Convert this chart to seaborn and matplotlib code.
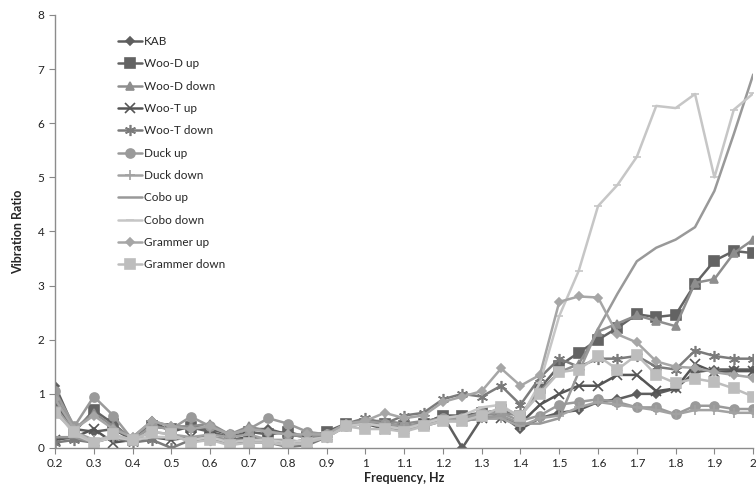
import numpy as np
import pandas as pd
import matplotlib
matplotlib.use('Agg')
import matplotlib.pyplot as plt
import seaborn as sns
from matplotlib.ticker import FormatStrFormatter

# ── Данные ────────────────────────────────────────────────────────────────────
freq = [round(0.2 + 0.05 * i, 2) for i in range(37)]

kab = [1.15, 0.35, 0.3, 0.35, 0.15, 0.5, 0.3, 0.4, 0.35, 0.25, 0.35, 0.35, 0.25, 0.2, 0.25,
       0.45, 0.5, 0.45, 0.4, 0.45, 0.6, 0.0, 0.55, 0.6, 0.35, 0.55, 0.65, 0.7, 0.85, 0.9,
       1.0, 1.0, 1.1, 1.4, 1.45, 1.45, 1.45]
woo_d_up = [0.85, 0.3, 0.7, 0.45, 0.15, 0.4, 0.35, 0.38, 0.3, 0.2, 0.3, 0.25, 0.3, 0.2, 0.3,
            0.45, 0.45, 0.45, 0.4, 0.45, 0.6, 0.6, 0.65, 0.7, 0.6, 1.1, 1.52, 1.76, 2.0, 2.22,
            2.47, 2.42, 2.46, 3.03, 3.46, 3.64, 3.6]
woo_d_down = [0.95, 0.35, 0.65, 0.4, 0.2, 0.5, 0.4, 0.4, 0.45, 0.25, 0.4, 0.3, 0.25, 0.2, 0.25,
              0.45, 0.5, 0.5, 0.45, 0.5, 0.55, 0.55, 0.6, 0.65, 0.6, 1.05, 1.4, 1.55, 2.15, 2.3,
              2.45, 2.35, 2.25, 3.05, 3.12, 3.6, 3.85]
woo_t_up = [0.15, 0.2, 0.35, 0.1, 0.15, 0.2, 0.15, 0.2, 0.2, 0.15, 0.2, 0.15, 0.1, 0.15, 0.2,
            0.4, 0.45, 0.35, 0.35, 0.45, 0.5, 0.5, 0.55, 0.55, 0.45, 0.8, 1.0, 1.15, 1.15, 1.35,
            1.35, 1.05, 1.1, 1.55, 1.4, 1.42, 1.42]
woo_t_down = [0.1, 0.15, 0.1, 0.2, 0.1, 0.15, 0.0, 0.15, 0.15, 0.1, 0.1, 0.1, 0.02, 0.05, 0.2,
              0.45, 0.55, 0.45, 0.6, 0.65, 0.9, 1.0, 0.95, 1.15, 0.8, 1.3, 1.65, 1.5, 1.65, 1.65,
              1.7, 1.5, 1.45, 1.8, 1.7, 1.65, 1.65]
duck_up = [1.05, 0.4, 0.95, 0.6, 0.15, 0.4, 0.35, 0.58, 0.4, 0.25, 0.35, 0.55, 0.45, 0.3, 0.25,
           0.4, 0.5, 0.45, 0.4, 0.45, 0.55, 0.55, 0.65, 0.65, 0.5, 0.6, 0.8, 0.85, 0.9, 0.85,
           0.75, 0.75, 0.62, 0.78, 0.78, 0.72, 0.72]
duck_down = [0.75, 0.3, 0.15, 0.2, 0.15, 0.3, 0.25, 0.2, 0.25, 0.2, 0.25, 0.15, 0.15, 0.1, 0.2,
             0.4, 0.45, 0.4, 0.35, 0.4, 0.5, 0.5, 0.55, 0.55, 0.4, 0.55, 0.6, 0.75, 0.85, 0.8,
             0.75, 0.7, 0.62, 0.7, 0.7, 0.65, 0.65]
cobo_up = [0.2, 0.2, 0.1, 0.2, 0.15, 0.2, 0.2, 0.15, 0.2, 0.15, 0.15, 0.15, 0.1, 0.15, 0.2,
           0.4, 0.45, 0.4, 0.35, 0.4, 0.5, 0.5, 0.55, 0.6, 0.45, 0.45, 0.55, 1.4, 2.2, 2.85,
           3.45, 3.7, 3.85, 4.08, 4.75, 5.8, 6.9]
cobo_down = [0.7, 0.25, 0.1, 0.2, 0.15, 0.2, 0.2, 0.15, 0.2, 0.1, 0.15, 0.15, 0.1, 0.15, 0.2,
             0.4, 0.45, 0.4, 0.35, 0.45, 0.55, 0.6, 0.75, 0.8, 0.55, 1.2, 2.44, 3.27, 4.47, 4.86,
             5.38, 6.32, 6.28, 6.54, 5.0, 6.25, 6.55]
grammer_up = [0.9, 0.35, 0.6, 0.35, 0.2, 0.5, 0.4, 0.35, 0.4, 0.25, 0.35, 0.3, 0.25, 0.25, 0.25,
              0.45, 0.5, 0.65, 0.55, 0.6, 0.85, 0.95, 1.05, 1.47, 1.15, 1.35, 2.7, 2.8, 2.78, 2.1,
              1.95, 1.6, 1.5, 1.48, 1.4, 1.35, 1.3]
grammer_down = [0.65, 0.3, 0.1, 0.25, 0.15, 0.3, 0.25, 0.1, 0.15, 0.05, 0.1, 0.1, 0.05, 0.1, 0.2,
                0.4, 0.35, 0.35, 0.3, 0.4, 0.5, 0.5, 0.6, 0.75, 0.6, 1.0, 1.4, 1.45, 1.7, 1.45,
                1.72, 1.35, 1.2, 1.28, 1.22, 1.1, 0.95]

labels = ['KAB', 'Woo-D up', 'Woo-D down', 'Woo-T up', 'Woo-T down', 'Duck up', 'Duck down',
          'Cobo up', 'Cobo down', 'Grammer up', 'Grammer down']
series = [kab, woo_d_up, woo_d_down, woo_t_up, woo_t_down, duck_up, duck_down,
          cobo_up, cobo_down, grammer_up, grammer_down]

# ── Стиль ─────────────────────────────────────────────────────────────────────
colors  = ['#5e5e5e', '#636363', '#8e8e8e', '#555555', '#7b7b7b', '#9a9a9a', '#a2a2a2',
           '#999999', '#c6c6c6', '#a6a6a6', '#bdbdbd']
markers = ['D', 's', '^', 'x', (6, 2, 0), 'o', '+', None, '_', 'D', 's']
msizes  = [4, 6.5, 6, 7, 8, 6.5, 7, 0, 6, 4.5, 6.5]

sns.set_style('white')
plt.rcParams['font.family'] = ['Lato', 'DejaVu Sans']

fig = plt.figure(figsize=(7.56, 4.93), dpi=100)
ax = fig.add_axes([0.0728, 0.0913, 0.9235, 0.8783])

for lab, vals, c, m, ms in zip(labels, series, colors, markers, msizes):
    d = pd.DataFrame({'freq': freq, 'val': vals})
    kw = dict(marker=m, markersize=ms, markeredgecolor=c, markerfacecolor=c,
              markeredgewidth=1.2) if m is not None else {}
    sns.lineplot(data=d, x='freq', y='val', ax=ax, color=c, lw=1.8, label=lab, **kw)

ax.set_xlim(0.2, 2.0)
ax.set_ylim(0, 8)
ax.set_xticks(np.arange(0.2, 2.01, 0.1))
ax.xaxis.set_major_formatter(FormatStrFormatter('%g'))
ax.set_yticks(range(0, 9))
ax.tick_params(axis='both', labelsize=8.5, colors='#222222', length=4, direction='out',
               bottom=True, left=True, color='#888888')
for s in ['top', 'right']:
    ax.spines[s].set_visible(False)
for s in ['left', 'bottom']:
    ax.spines[s].set_color('#8c8c8c')
    ax.spines[s].set_linewidth(1.0)

ax.set_xlabel('Frequency, Hz', fontsize=9, fontweight='bold', labelpad=2)
ax.set_ylabel('Vibration Ratio', fontsize=9, fontweight='bold', labelpad=10)

ax.legend(loc='upper left', bbox_to_anchor=(0.083, 0.962), frameon=False, fontsize=8.5,
          handlelength=2.1, labelspacing=0.96, handletextpad=0.1, borderaxespad=0)

fig.savefig('out.png', dpi=100)
